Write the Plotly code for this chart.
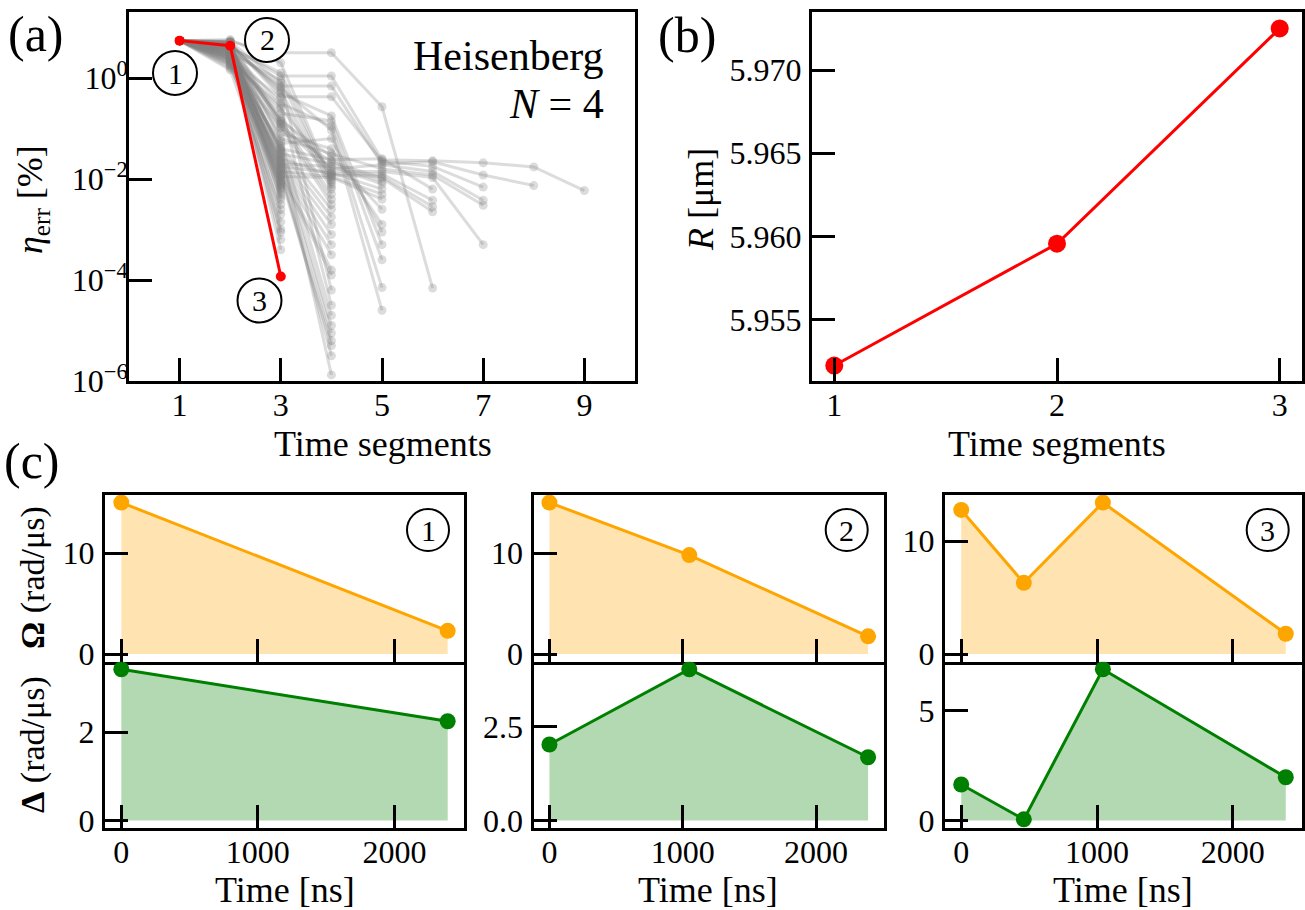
import plotly.graph_objects as go

W, H = 1305, 910
FONT = "Liberation Serif"

# ---------------- data ----------------
# panel (a): log10 of eta_err [%] for each optimisation run, index = time segments 1..n
gray_log_err = [
    [0.74, 0.62, 0.04, 0.04, -1.62, -1.64, -1.68, -1.76, -2.23],
    [0.74, 0.55, -0.16, -0.16, -1.70, -1.66, -1.92, -2.13],
    [0.74, 0.70, -0.37, -0.37, -1.65, -1.75, -2.16],
    [0.74, 0.45, -0.80, -1.80, -1.72, -1.85, -2.42],
    [0.74, 0.66, -1.20, -1.50, -1.80, -1.92, -2.52],
    [0.74, 0.35, -0.60, -1.85, -1.85, -1.97, -3.30],
    [0.74, 0.72, 0.50, 0.50, -0.57, -4.16],
    [0.74, 0.50, -1.40, -1.62, -1.60, -2.20],
    [0.74, 0.60, -0.90, -1.90, -1.90, -2.42],
    [0.74, 0.30, -1.60, -1.92, -1.95, -2.55],
    [0.74, 0.58, -1.00, -1.66, -1.98, -2.65],
    [0.74, 0.68, -0.30, -0.75, -3.30],
    [0.74, 0.40, -0.70, -0.85, -3.60],
    [0.74, 0.52, -0.50, -0.95, -4.15],
    [0.74, 0.64, -0.20, -1.03, -4.60],
    [0.74, 0.25, -1.30, -1.20, -3.05],
    [0.74, 0.48, -1.10, -1.40, -2.90],
    [0.74, 0.70, -1.50, -1.70, -2.05],
    [0.74, 0.42, -1.70, -1.75, -2.10],
    [0.74, 0.56, -1.75, -1.88, -2.20],
    [0.74, 0.62, -1.85, -1.95, -2.30],
    [0.74, 0.33, -1.95, -1.97, -2.40],
    [0.74, 0.74, -0.85, -1.55, -2.60],
    [0.74, 0.76, 0.30, -2.02],
    [0.74, 0.60, 0.10, -2.05],
    [0.74, 0.50, -0.05, -2.10],
    [0.74, 0.65, -0.25, -2.15],
    [0.74, 0.38, -0.40, -2.20],
    [0.74, 0.55, -0.85, -2.30],
    [0.74, 0.70, -0.92, -2.40],
    [0.74, 0.28, -0.97, -2.50],
    [0.74, 0.45, -1.36, -2.60],
    [0.74, 0.62, -1.45, -2.75],
    [0.74, 0.52, -1.56, -2.90],
    [0.74, 0.40, -1.62, -3.10],
    [0.74, 0.68, -1.70, -3.30],
    [0.74, 0.20, -1.78, -3.50],
    [0.74, 0.58, -1.85, -3.80],
    [0.74, 0.47, -1.92, -3.90],
    [0.74, 0.72, -0.10, -4.20],
    [0.74, 0.35, -0.55, -4.50],
    [0.74, 0.63, -1.25, -4.70],
    [0.74, 0.53, -1.50, -4.90],
    [0.74, 0.43, -1.65, -5.05],
    [0.74, 0.66, -1.90, -5.20],
    [0.74, 0.31, -1.96, -5.30],
    [0.74, 0.57, -1.80, -5.50],
    [0.74, 0.49, -1.40, -5.88],
    [0.74, 0.70, -2.02],
    [0.74, 0.55, -2.05],
    [0.74, 0.62, -2.08],
    [0.74, 0.44, -2.10],
    [0.74, 0.36, -2.12],
    [0.74, 0.66, -2.15],
    [0.74, 0.50, -2.18],
    [0.74, 0.25, -2.20],
    [0.74, 0.58, -2.25],
    [0.74, 0.72, -2.30],
    [0.74, 0.41, -2.35],
    [0.74, 0.64, -2.40],
    [0.74, 0.53, -2.50],
    [0.74, 0.16, -2.60],
    [0.74, 0.60, -2.70],
    [0.74, 0.47, -2.85],
    [0.74, 0.68, -3.00],
    [0.74, 0.39, -3.05],
    [0.74, 0.56, -3.20],
    [0.74, 0.63, -3.40],
]
red_log_err = [0.74, 0.64, -3.93]
err_threshold_log = -2

# panel (b)
segments_b = [1, 2, 3]
R_um = [5.95223, 5.95956, 5.97251]

# panel (c): pulse parameters of solutions 1, 2, 3
time_1 = [0, 2390]
omega_1 = [15.02, 2.31]
delta_1 = [3.43, 2.25]

time_2 = [0, 1049, 2390]
omega_2 = [15.0, 9.8, 1.76]
delta_2 = [2.02, 4.02, 1.68]

time_3 = [0, 461, 1043, 2390]
omega_3 = [12.75, 6.3, 13.4, 1.8]
delta_3 = [1.64, 0.05, 6.9, 1.97]

a_xticks = [1, 3, 5, 7, 9]
a_yticks = [1e-6, 1e-4, 1e-2, 1]
a_yticktext = ["10<sup>−6</sup>", "10<sup>−4</sup>", "10<sup>−2</sup>", "10<sup>0</sup>"]
b_yticks = [5.955, 5.960, 5.965, 5.970]
b_yticktext = ["5.955", "5.960", "5.965", "5.970"]
c_xticks = [0, 1000, 2000]

# ---------------- helpers ----------------
def px_x(a, b):
    return [a / W, b / W]

def px_y(top, bottom):
    return [1 - bottom / H, 1 - top / H]

TICKFONT = dict(family=FONT, size=32, color="black")
AX = dict(showline=True, linecolor="black", linewidth=3, mirror=True,
          ticks="inside", ticklen=23, tickwidth=2.5, tickcolor="black",
          showgrid=False, zeroline=False, tickfont=TICKFONT, automargin=False)

fig = go.Figure()

# ---- panel (a) ----
for traj in gray_log_err:
    fig.add_trace(go.Scatter(
        x=list(range(1, len(traj) + 1)), y=[10 ** v for v in traj],
        mode="lines+markers", xaxis="x", yaxis="y",
        line=dict(color="rgba(128,128,128,0.28)", width=3),
        marker=dict(color="rgba(128,128,128,0.28)", size=9),
        showlegend=False, hoverinfo="skip"))
fig.add_trace(go.Scatter(
    x=list(range(1, len(red_log_err) + 1)), y=[10 ** v for v in red_log_err],
    mode="lines+markers", xaxis="x", yaxis="y",
    line=dict(color="red", width=3), marker=dict(color="red", size=10),
    showlegend=False))

# ---- panel (b) ----
fig.add_trace(go.Scatter(
    x=segments_b, y=R_um, mode="lines+markers", xaxis="x2", yaxis="y2",
    line=dict(color="red", width=3), marker=dict(color="red", size=18),
    showlegend=False))

# ---- panel (c) ----
ORANGE, GREEN = "#FFA500", "#008000"
c_sets = [(time_1, omega_1, delta_1), (time_2, omega_2, delta_2), (time_3, omega_3, delta_3)]
for i, (t, om, de) in enumerate(c_sets):
    xt = "x%d" % (3 + 2 * i)
    yt = "y%d" % (3 + 2 * i)
    xb = "x%d" % (4 + 2 * i)
    yb = "y%d" % (4 + 2 * i)
    fig.add_trace(go.Scatter(
        x=t, y=om, mode="lines+markers", xaxis=xt, yaxis=yt, fill="tozeroy",
        fillcolor="rgba(255,165,0,0.3)", line=dict(color=ORANGE, width=3),
        marker=dict(color=ORANGE, size=16), showlegend=False))
    fig.add_trace(go.Scatter(
        x=t, y=de, mode="lines+markers", xaxis=xb, yaxis=yb, fill="tozeroy",
        fillcolor="rgba(0,128,0,0.3)", line=dict(color=GREEN, width=3),
        marker=dict(color=GREEN, size=16), showlegend=False))

layout = dict(width=W, height=H, autosize=False,
              margin=dict(l=0, r=0, t=0, b=0, pad=0, autoexpand=False),
              paper_bgcolor="white", plot_bgcolor="white",
              font=dict(family=FONT, color="black", size=32), showlegend=False)

layout["xaxis"] = dict(AX, domain=px_x(129, 635), range=[0, 10], anchor="y",
                       tickvals=a_xticks, ticklabelstandoff=-6)
layout["yaxis"] = dict(AX, domain=px_y(12, 381), type="log", range=[-6, 1.307],
                       anchor="x", tickvals=a_yticks, ticktext=a_yticktext,
                       ticklabelstandoff=-8)
layout["xaxis2"] = dict(AX, domain=px_x(812, 1302), range=[0.9, 3.1], anchor="y2",
                        tickvals=segments_b, ticklabelstandoff=-6)
layout["yaxis2"] = dict(AX, domain=px_y(12, 381), range=[5.9513, 5.9735], anchor="x2",
                        tickvals=b_yticks, ticktext=b_yticktext, ticklabelstandoff=1)

cols = [(105, 464), (533.5, 884), (945, 1302)]
top_ranges = [[-0.751, 15.771], [-0.75, 15.75], [-0.67, 14.07]]
bot_ranges = [[-0.1715, 3.6015], [-0.201, 4.221], [-0.345, 7.245]]
top_ticks = [([0, 10], ["0", "10"])] * 3
bot_ticks = [([0, 2], ["0", "2"]), ([0, 2.5], ["0.0", "2.5"]), ([0, 5], ["0", "5"])]
for i, (l, r) in enumerate(cols):
    n_t, n_b = 3 + 2 * i, 4 + 2 * i
    layout["xaxis%d" % n_t] = dict(AX, domain=px_x(l, r), range=[-119.5, 2509.5],
                                   anchor="y%d" % n_t, tickvals=c_xticks,
                                   showticklabels=False)
    layout["yaxis%d" % n_t] = dict(AX, domain=px_y(495, 661.7), range=top_ranges[i],
                                   anchor="x%d" % n_t, tickvals=top_ticks[i][0],
                                   ticktext=top_ticks[i][1], ticklabelstandoff=1)
    layout["xaxis%d" % n_b] = dict(AX, domain=px_x(l, r), range=[-119.5, 2509.5],
                                   anchor="y%d" % n_b, tickvals=c_xticks,
                                   mirror=False, ticklabelstandoff=-6)
    layout["yaxis%d" % n_b] = dict(AX, domain=px_y(661.7, 828), range=bot_ranges[i],
                                   anchor="x%d" % n_b, tickvals=bot_ticks[i][0],
                                   ticktext=bot_ticks[i][1], ticklabelstandoff=1)

def ann(text, px, py, size, xanchor="center", angle=0):
    return dict(text=text, x=px / W, y=1 - py / H, xref="paper", yref="paper",
                showarrow=False, xanchor=xanchor, yanchor="middle", textangle=angle,
                font=dict(family=FONT, size=size, color="black"))

annotations = [
    ann("(a)", 36, 34, 50), ann("(b)", 687, 35, 50), ann("(c)", 32, 461, 50),
    ann("Heisenberg", 606, 56, 42, xanchor="right"),
    ann("<i>N</i> = 4", 606, 104, 42, xanchor="right"),
    ann("Time segments", 383, 444, 36), ann("Time segments", 1057, 444, 36),
    ann("<i>η</i><sub>err</sub> [%]", 32, 200, 36, angle=-90),
    ann("<i>R</i> [μm]", 701, 200, 36, angle=-90),
    ann("<b>Ω</b> (rad/μs)", 33, 578, 34, angle=-90),
    ann("<b>Δ</b> (rad/μs)", 33, 745, 34, angle=-90),
    ann("Time [ns]", 285, 890, 36), ann("Time [ns]", 708, 890, 36),
    ann("Time [ns]", 1123, 890, 36),
]

circles = [("1", 175, 73, 22), ("2", 267, 40, 22), ("3", 259.5, 300.5, 22),
           ("1", 428, 530, 21), ("2", 846.7, 530, 21), ("3", 1267.7, 530, 21)]
shapes = [dict(type="rect", xref="x domain", yref="y", x0=0, x1=1,
               y0=-6, y1=err_threshold_log, fillcolor="rgba(255,192,203,0.3)",
               line=dict(width=0), layer="below")]
for label, cx, cy, rad in circles:
    shapes.append(dict(type="circle", xref="paper", yref="paper",
                       xsizemode="pixel", ysizemode="pixel",
                       xanchor=cx / W, yanchor=1 - cy / H,
                       x0=-rad, x1=rad, y0=-rad, y1=rad,
                       line=dict(color="black", width=2), fillcolor="white",
                       layer="above"))
    annotations.append(ann(label, cx, cy, 30))

layout["annotations"] = annotations
layout["shapes"] = shapes
fig.update_layout(layout)

PAGE_FIX = ("var b=document.body.style;b.margin='0px';b.padding='0px';b.overflow='hidden';"
            "document.documentElement.style.overflow='hidden';"
            "var d=document.getElementById('{plot_id}');"
            "d.style.position='absolute';d.style.left='0px';d.style.top='0px';")
fig.write_html("out.html", config={"displayModeBar": False}, post_script=PAGE_FIX)
